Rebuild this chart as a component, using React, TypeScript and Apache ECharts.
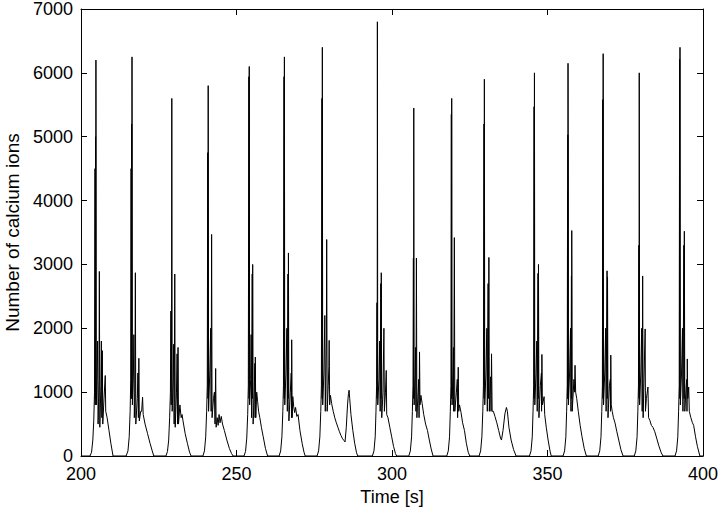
import React, { useEffect, useRef } from "react";
import * as echarts from "echarts";

// Axis ticks
const xTicks = [200, 250, 300, 350, 400];
const yTicks = [0, 1000, 2000, 3000, 4000, 5000, 6000, 7000];

// Time of the main spike of each burst [s]
const burstTimes = [204.8, 216.4, 229.2, 240.9, 254.1, 265.4, 277.6, 295.3, 307.0, 319.2, 329.7, 345.8, 356.6, 367.9, 379.5, 392.6];

// Each burst: [time offset from main spike (s), number of ions]
const burst01 = [[-1.9,0],[-1.4,60],[-1.0,250],[-0.7,550],[-0.45,1000],[-0.3,4500],[-0.22,800],[-0.12,5000],[-0.06,900],[0,6200],[0.12,800],[0.4,1400],[0.55,1800],[0.7,500],[1.0,1200],[1.1,2890],[1.25,450],[1.6,1100],[1.75,1800],[1.9,600],[2.05,1650],[2.2,500],[2.6,900],[3.0,1260],[3.15,700],[3.6,600],[4.2,400],[4.8,200],[5.5,0]];
const burst02 = [[-1.9,0],[-1.3,80],[-0.9,300],[-0.6,700],[-0.4,1200],[-0.3,4500],[-0.22,900],[-0.12,5200],[-0.06,900],[0,6250],[0.12,800],[0.45,1300],[0.6,1900],[0.75,600],[0.95,1000],[1.08,2870],[1.22,500],[1.7,900],[1.9,1300],[2.05,600],[2.2,1530],[2.35,550],[2.8,700],[3.1,700],[3.4,920],[3.6,650],[4.2,500],[5.0,350],[5.8,200],[6.5,80],[7.0,0]];
const burst03 = [[-1.9,0],[-1.4,70],[-1.0,250],[-0.7,600],[-0.45,1000],[-0.3,2270],[-0.2,800],[-0.1,1500],[0,5600],[0.12,700],[0.45,1200],[0.6,1750],[0.75,500],[0.95,2850],[1.1,450],[1.5,1000],[1.7,1600],[1.85,500],[2.0,1700],[2.15,500],[2.6,800],[3.0,600],[3.3,650],[3.6,550],[4.3,350],[5.0,200],[5.7,60],[6.2,0]];
const burst04 = [[-1.7,0],[-1.2,80],[-0.8,300],[-0.5,700],[-0.3,1100],[-0.15,4750],[-0.07,900],[0,5800],[0.12,700],[0.5,1300],[0.8,2000],[0.95,700],[1.1,3470],[1.25,600],[1.7,900],[2.0,1000],[2.2,500],[2.4,1370],[2.55,450],[2.9,600],[3.2,480],[3.5,650],[3.8,520],[4.2,620],[4.6,500],[5.2,400],[6.0,250],[6.8,120],[7.5,40],[8.0,0]];
const burst05 = [[-1.7,0],[-1.2,70],[-0.8,280],[-0.5,650],[-0.3,1100],[-0.12,5940],[-0.06,900],[0,6100],[0.12,800],[0.45,1200],[0.6,1900],[0.75,600],[0.95,2850],[1.05,900],[1.1,3000],[1.25,500],[1.6,1000],[1.8,1450],[1.88,600],[1.95,1550],[2.1,600],[2.4,1000],[2.7,850],[3.0,700],[3.4,600],[3.9,450],[4.5,300],[5.2,120],[5.9,0]];
const burst06 = [[-1.7,0],[-1.2,80],[-0.8,300],[-0.5,700],[-0.3,1100],[-0.12,5940],[-0.06,900],[0,6250],[0.12,800],[0.5,1300],[0.8,2000],[0.95,700],[1.15,2850],[1.22,900],[1.3,3180],[1.45,550],[1.9,1000],[2.2,1300],[2.28,600],[2.35,1820],[2.5,600],[2.7,930],[3.0,770],[3.3,680],[3.6,760],[4.0,620],[4.4,650],[5.0,400],[5.7,200],[6.3,60],[6.7,0]];
const burst07 = [[-1.7,0],[-1.2,80],[-0.8,300],[-0.5,700],[-0.3,1100],[-0.12,5600],[-0.06,900],[0,6400],[0.12,800],[0.5,1300],[0.8,2200],[0.95,700],[1.3,1800],[1.4,3390],[1.55,700],[1.9,1100],[2.1,1400],[2.2,1810],[2.35,800],[2.6,950],[3.0,820],[3.5,700],[4.0,600],[4.5,520],[5.0,450],[5.5,380],[6.0,320],[6.5,270],[7.0,240],[7.3,220],[7.7,450],[8.1,800],[8.4,980],[8.6,1030],[8.8,900],[9.2,650],[9.8,400],[10.4,200],[11.0,50],[11.4,0]];
const burst08 = [[-1.6,0],[-1.1,80],[-0.7,300],[-0.45,700],[-0.25,1100],[-0.12,2400],[-0.06,900],[0,6800],[0.12,800],[0.5,1200],[0.75,1800],[0.9,700],[1.1,2700],[1.18,900],[1.25,2870],[1.4,600],[1.8,1000],[2.1,2000],[2.25,700],[2.6,1000],[2.85,1340],[3.0,650],[3.4,600],[4.0,450],[4.6,300],[5.2,150],[5.8,40],[6.2,0]];
const burst09 = [[-1.6,0],[-1.1,80],[-0.7,300],[-0.45,700],[-0.25,1100],[-0.12,3100],[-0.06,900],[0,5450],[0.12,800],[0.45,1300],[0.6,1700],[0.7,700],[0.85,3100],[1.0,600],[1.4,1000],[1.6,1200],[1.7,600],[1.85,1630],[2.0,800],[2.3,950],[2.7,820],[3.2,650],[3.8,500],[4.4,400],[5.0,250],[5.6,110],[6.2,0]];
const burst10 = [[-1.6,0],[-1.1,80],[-0.7,300],[-0.45,700],[-0.25,1100],[-0.12,5350],[-0.06,900],[0,5600],[0.12,800],[0.4,1300],[0.55,1700],[0.65,700],[0.85,3420],[1.0,700],[1.5,1000],[1.8,1200],[1.9,600],[2.1,1390],[2.25,700],[2.5,800],[3.0,680],[3.5,520],[4.1,400],[4.7,200],[5.3,60],[5.8,0]];
const burst11 = [[-1.7,0],[-1.2,80],[-0.8,300],[-0.5,700],[-0.3,1100],[-0.12,5200],[-0.06,900],[0,5900],[0.12,800],[0.5,1300],[0.8,2000],[0.95,700],[1.2,2700],[1.3,900],[1.45,3110],[1.6,700],[2.0,1240],[2.15,700],[2.3,1600],[2.5,700],[2.9,700],[3.4,620],[4.0,520],[4.6,400],[5.2,280],[5.5,250],[6.0,400],[6.6,660],[7.1,760],[7.4,700],[7.9,450],[8.6,250],[9.4,100],[10.2,0]];
const burst12 = [[-1.6,0],[-1.1,80],[-0.7,300],[-0.45,700],[-0.25,1100],[-0.12,5470],[-0.06,900],[0,6000],[0.12,800],[0.5,1300],[0.75,1800],[0.9,700],[1.15,2860],[1.22,900],[1.3,3000],[1.45,600],[1.9,1100],[2.25,1300],[2.3,700],[2.4,1590],[2.55,800],[2.8,850],[3.1,930],[3.3,650],[3.8,450],[4.4,250],[5.0,80],[5.4,0]];
const burst13 = [[-1.6,0],[-1.1,80],[-0.7,300],[-0.45,700],[-0.25,1100],[-0.15,4150],[-0.1,900],[-0.05,5030],[-0.02,900],[0,6150],[0.12,800],[0.5,1300],[0.8,2000],[0.95,700],[1.1,2820],[1.15,900],[1.2,3530],[1.35,700],[1.9,1200],[2.1,1000],[2.25,1420],[2.45,1000],[2.8,900],[3.3,700],[3.9,480],[4.5,300],[5.2,120],[5.9,0]];
const burst14 = [[-1.6,0],[-1.1,80],[-0.7,300],[-0.45,700],[-0.25,1100],[-0.12,5580],[-0.06,900],[0,6300],[0.12,800],[0.5,1300],[0.8,2000],[0.95,700],[1.25,2900],[1.32,900],[1.4,2800],[1.55,600],[2.0,1100],[2.3,1200],[2.35,700],[2.45,1580],[2.6,800],[2.9,700],[3.3,600],[3.8,520],[4.4,380],[5.0,250],[5.7,100],[6.4,0]];
const burst15 = [[-1.6,0],[-1.1,80],[-0.7,300],[-0.45,700],[-0.25,1100],[-0.12,3300],[-0.06,900],[0,6000],[0.12,800],[0.5,1300],[0.8,2000],[0.95,700],[1.1,2820],[1.25,600],[1.9,1990],[2.0,700],[2.3,900],[2.8,1080],[3.0,600],[3.4,560],[3.9,480],[4.4,450],[5.0,380],[5.6,280],[6.3,160],[7.0,60],[7.6,0]];
const burst16 = [[-1.6,0],[-1.1,80],[-0.7,300],[-0.45,700],[-0.25,1100],[-0.12,6210],[-0.06,900],[0,6400],[0.12,800],[0.5,1300],[0.8,2000],[0.95,700],[1.25,3300],[1.32,900],[1.4,3520],[1.55,700],[2.0,1100],[2.2,1200],[2.25,700],[2.35,1520],[2.5,900],[2.8,1080],[3.0,700],[3.5,600],[4.0,520],[4.4,480],[5.0,300],[5.6,150],[6.4,0]];

const bursts = [burst01, burst02, burst03, burst04, burst05, burst06, burst07, burst08, burst09, burst10, burst11, burst12, burst13, burst14, burst15, burst16];

const FONT = "'Liberation Sans', Arial, Helvetica, sans-serif";

function buildSeries(): number[][] {
  const out: number[][] = [[xTicks[0], 0]];
  bursts.forEach((b, i) => {
    b.forEach(([dt, v]) => {
      out.push([Math.round((burstTimes[i] + dt) * 100) / 100, v]);
    });
  });
  out.push([xTicks[xTicks.length - 1], 0]);
  return out;
}

export default function App() {
  const ref = useRef<HTMLDivElement>(null);
  useEffect(() => {
    document.body.style.margin = "0";
    const chart = echarts.init(ref.current!, null, { renderer: "svg" });
    const axisLine = { show: true, onZero: false, lineStyle: { color: "#000", width: 1 } };
    const tick = { show: true, inside: true, length: 6, lineStyle: { color: "#000", width: 1 } };
    const label = { color: "#000", fontSize: 18, fontFamily: FONT, formatter: (v: number) => String(v) };
    chart.setOption({
      animation: false,
      backgroundColor: "#fff",
      grid: { left: 81, right: 17, top: 9, bottom: 51, containLabel: false, outerBoundsMode: "none" },
      xAxis: [
        {
          type: "value",
          min: xTicks[0],
          max: xTicks[xTicks.length - 1],
          interval: 50,
          position: "bottom",
          name: "Time [s]",
          nameLocation: "middle",
          nameGap: 30,
          nameTextStyle: { color: "#000", fontSize: 18, lineHeight: 16, fontFamily: FONT },
          axisLine,
          axisTick: tick,
          axisLabel: { ...label, margin: 10, lineHeight: 16 },
          splitLine: { show: false },
        },
        {
          type: "value",
          min: xTicks[0],
          max: xTicks[xTicks.length - 1],
          interval: 50,
          position: "top",
          axisLine,
          axisTick: tick,
          axisLabel: { show: false },
          splitLine: { show: false },
        },
      ],
      yAxis: [
        {
          type: "value",
          min: yTicks[0],
          max: yTicks[yTicks.length - 1],
          interval: 1000,
          position: "left",
          name: "Number of calcium ions",
          nameLocation: "middle",
          nameGap: 56,
          nameTextStyle: { color: "#000", fontSize: 19, fontFamily: FONT },
          axisLine,
          axisTick: tick,
          axisLabel: { ...label, margin: 8, lineHeight: 14 },
          splitLine: { show: false },
        },
        {
          type: "value",
          min: yTicks[0],
          max: yTicks[yTicks.length - 1],
          interval: 1000,
          position: "right",
          axisLine,
          axisTick: tick,
          axisLabel: { show: false },
          splitLine: { show: false },
        },
      ],
      series: [
        {
          type: "line",
          xAxisIndex: 0,
          yAxisIndex: 0,
          data: buildSeries(),
          showSymbol: false,
          symbol: "none",
          lineStyle: { color: "#000", width: 1 },
          z: 1,
        },
      ],
    });
    return () => chart.dispose();
  }, []);
  return <div ref={ref} style={{ position: "absolute", left: 0, top: 0, width: 720, height: 507 }} />;
}
